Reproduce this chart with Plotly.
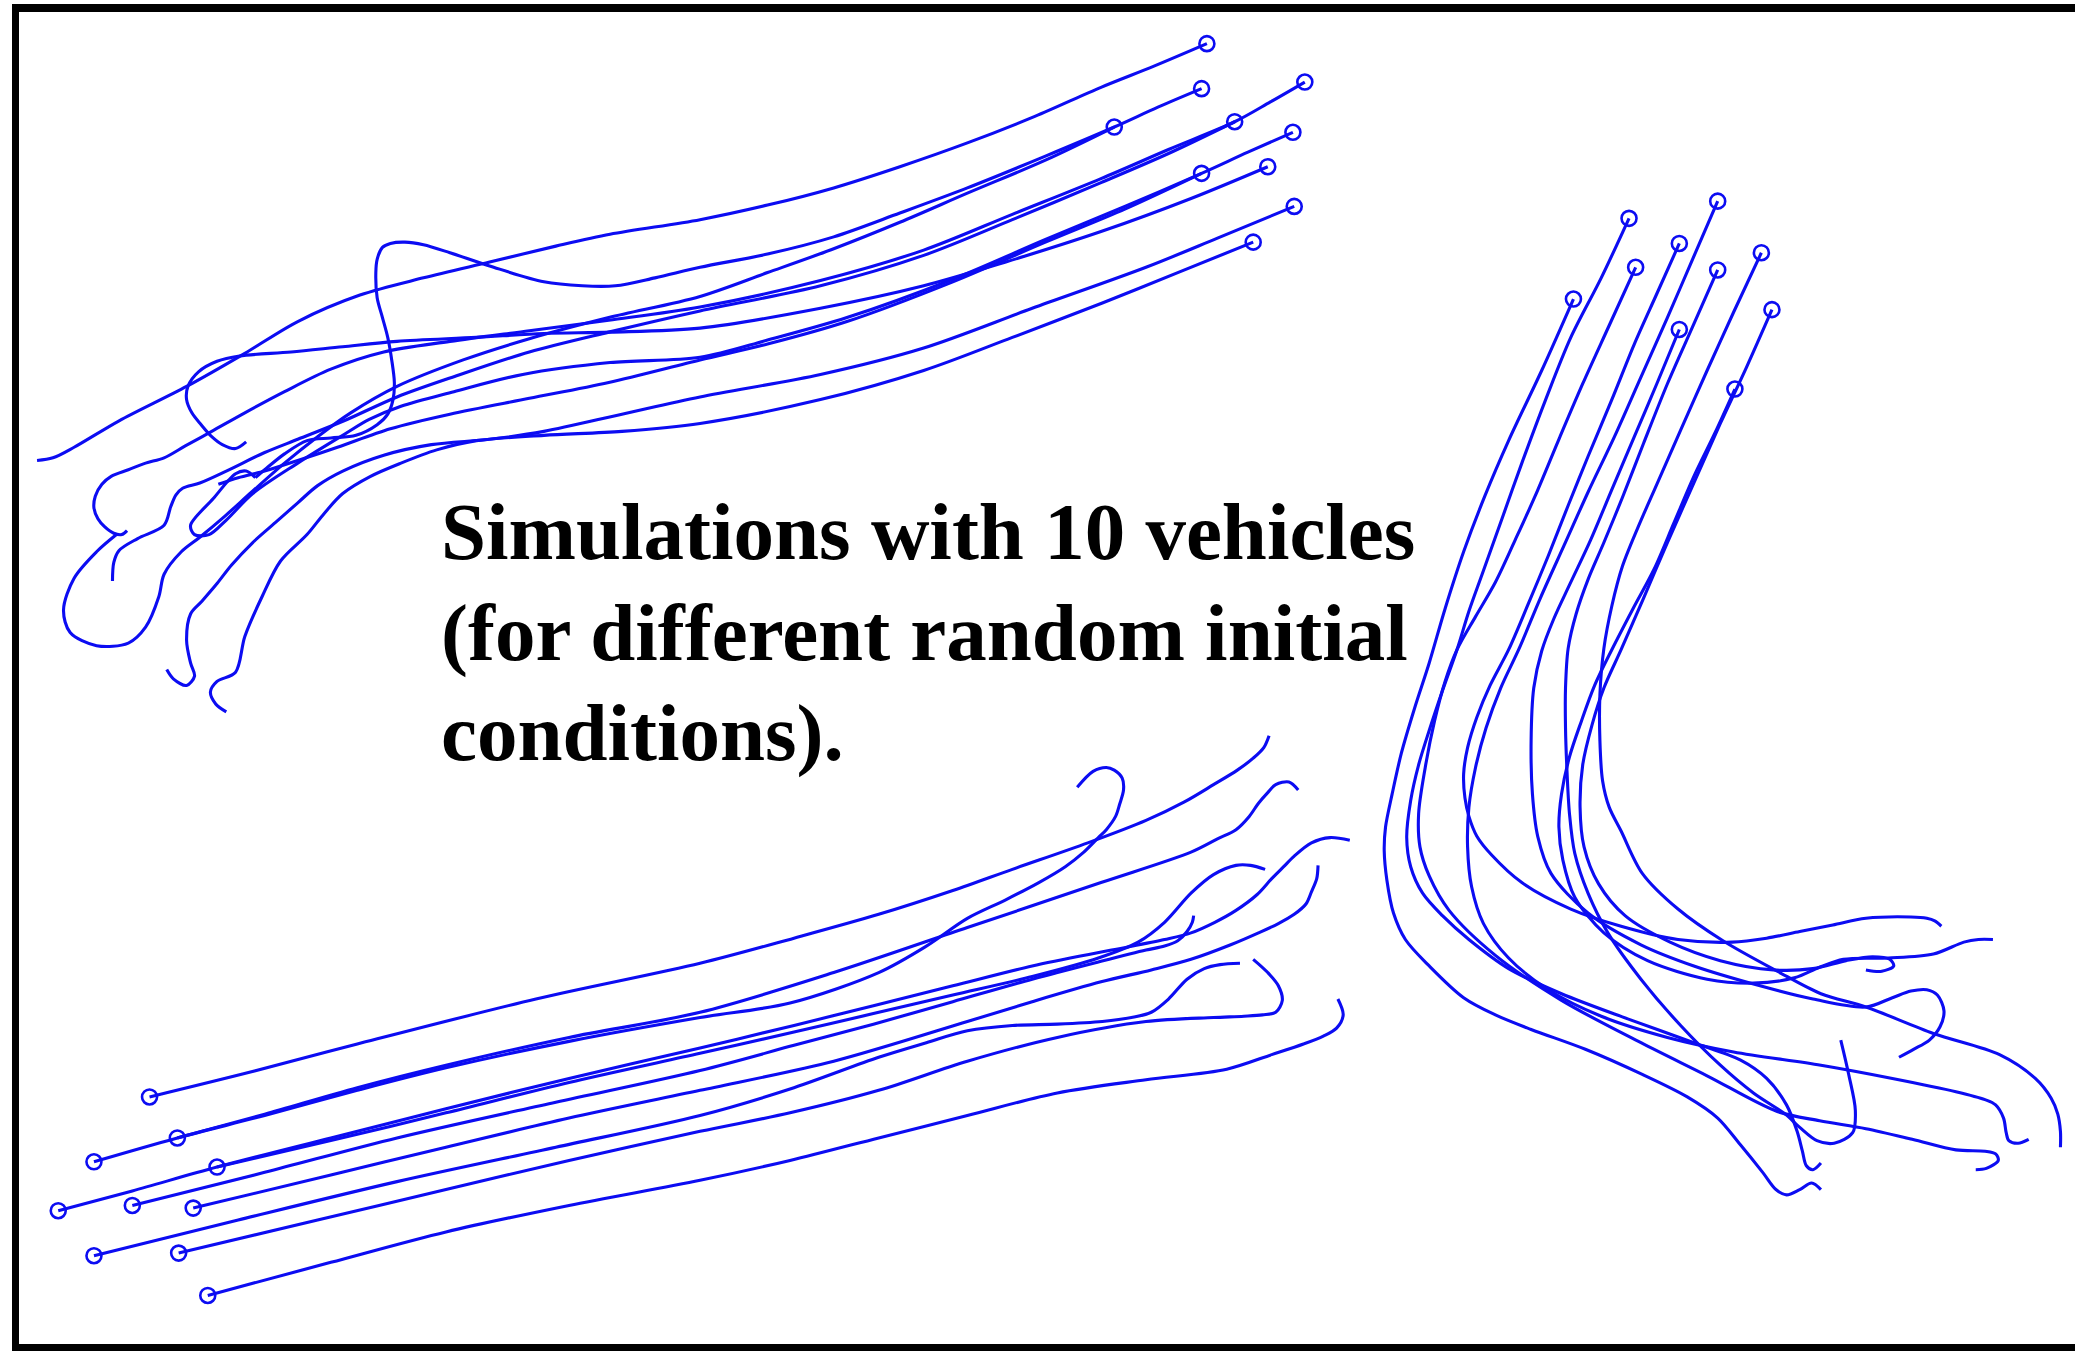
import plotly.graph_objects as go

# Vehicle trajectories (x, y) for three simulation runs, 10 vehicles each.
# The first point of every path is the vehicle's initial position (drawn as a ring).

# ---- run 1 (upper-left group) ----
top_v1 = [(912,33),(872,50),(832,66),(782,88),(731,108),(680,126),(630,142),(580,155),(529,166),(461,177),(420,186),(370,198),(320,210),(272,223),(225,243),(185,267),(141,292),(90,318),(56,338),(40,346),(28,348)]
top_v2 = [(908,67),(875,81),(842,96),(790,118),(731,142),(680,161),(630,179),(580,192),(529,202),(495,210),(465,216),(440,216),(411,213),(370,201),(340,191),(320,185),(306,183),(295,184),(289,187),(285,196),(284,206),(285,225),(289,240),(293,255),(296,272),(298,289),(297,302),(293,313),(285,321),(269,329),(250,331),(232,333),(215,343),(200,355),(193,361)]
top_v3 = [(986,62),(960,77),(933,92),(883,113),(832,135),(765,162),(698,189),(620,212),(529,232),(460,242),(400,250),(340,258),(290,266),(250,279),(215,296),(185,312),(160,326),(140,337),(124,346),(110,350),(97,355),(84,360),(77,366),(72,375),(71,384),(74,392),(79,398),(86,403),(92,404),(96,401)]
top_v4 = [(842,96),(790,121),(731,146),(680,168),(630,188),(580,206),(529,224),(460,240),(400,256),(350,272),(300,292),(265,312),(240,330),(215,350),(190,372),(170,390),(151,406),(137,417),(124,434),(120,451),(110,474),(97,486),(73,488),(53,478),(48,461),(56,437),(73,417),(88,404)]
top_v5 = [(933,92),(883,116),(832,138),(765,166),(698,193),(620,216),(529,235),(460,251),(400,266),(345,284),(300,300),(260,318),(225,332),(200,342),(171,356),(151,365),(138,369),(133,374),(129,383),(124,397),(104,407),(90,416),(86,425),(85,439)]
top_v6 = [(977,100),(943,115),(908,131),(850,156),(790,181),(720,211),(640,240),(580,257),(529,270),(461,274),(395,283),(343,296),(303,307),(279,317),(259,329),(225,350),(191,373),(171,393),(158,404),(147,404),(144,397),(161,377),(178,358),(186,356),(193,361)]
top_v7 = [(908,131),(850,158),(790,183),(720,213),(640,243),(580,260),(529,272),(460,289),(400,301),(340,313),(295,324),(255,338),(225,348),(200,356),(180,361),(165,366)]
top_v8 = [(958,126),(900,150),(832,175),(760,198),(698,216),(620,233),(529,248),(461,251),(411,252),(360,255),(300,258),(259,262),(220,266),(181,269),(164,273),(150,281),(142,292),(141,302),(145,312),(152,321),(160,330),(168,336),(178,339),(186,334)]
top_v9 = [(978,156),(920,180),(866,202),(780,233),(698,263),(620,283),(529,300),(470,313),(411,326),(370,332),(326,336),(290,344),(259,356),(240,367),(225,380),(208,395),(191,410),(175,427),(164,441),(152,455),(144,464),(141,484),(144,501),(147,511),(141,518),(131,513),(126,506)]
top_v10 = [(947,183),(890,206),(833,229),(765,255),(698,280),(620,302),(529,320),(470,326),(411,329),(360,333),(330,340),(303,350),(280,360),(259,373),(245,388),(232,404),(212,424),(198,451),(185,481),(178,508),(164,515),(159,523),(163,532),(171,538)]

# ---- run 2 (lower-left group) ----
low_v1 = [(113,829),(190,810),(270,789),(405,755),(529,728),(600,709),(664,691),(720,673),(765,657),(822,637),(866,620),(895,606),(917,593),(935,582),(947,573),(955,565),(959,556)]
low_v2 = [(71,878),(134,860),(200,843),(270,824),(337,807),(430,787),(529,769),(597,758),(664,735),(700,715),(731,694),(760,680),(785,667),(805,655),(819,644),(830,633),(836,627),(843,617),(846,608),(849,597),(848,588),(842,582),(836,580),(826,583),(814,595)]
low_v3 = [(134,860),(200,842),(270,822),(337,805),(430,784),(529,765),(630,735),(731,701),(832,667),(900,644),(920,634),(934,627),(944,617),(951,607),(958,599),(964,593),(974,591),(981,597)]
low_v4 = [(44,915),(100,900),(164,882),(250,860),(337,838),(430,815),(529,792),(600,775),(660,760),(720,745),(780,730),(840,718),(880,710),(900,705),(918,697),(934,688),(950,676),(961,664),(970,655),(978,647),(991,637),(1005,633),(1020,635)]
low_v5 = [(164,882),(250,862),(337,841),(430,818),(529,796),(600,780),(660,766),(720,752),(780,738),(830,724),(860,712),(880,697),(900,675),(917,661),(934,654),(945,654),(956,657)]
low_v6 = [(100,911),(200,886),(300,860),(420,833),(529,809),(600,790),(660,774),(720,757),(780,740),(830,727),(866,718),(880,715),(890,711),(897,704),(901,697),(902,692)]
low_v7 = [(146,913),(250,888),(337,867),(430,845),(529,824),(630,802),(731,772),(780,757),(832,742),(870,733),(900,725),(930,714),(951,705),(966,698),(978,691),(987,683),(991,674),(995,664),(996,654)]
low_v8 = [(71,949),(180,922),(300,893),(420,867),(529,843),(597,823),(664,799),(700,788),(731,779),(765,775),(799,774),(833,772),(855,769),(870,765),(883,755),(897,740),(910,732),(922,729),(937,728)]
low_v9 = [(135,947),(240,922),(337,899),(430,877),(529,855),(597,841),(664,824),(731,802),(799,784),(866,772),(917,769),(940,768),(954,767),(964,765),(969,756),(966,745),(958,735),(947,725)]
low_v10 = [(157,979),(250,954),(337,931),(430,911),(529,892),(597,877),(664,860),(731,843),(799,826),(866,816),(927,808),(961,797),(985,789),(1000,783),(1010,777),(1015,767),(1011,755)]

# ---- run 3 (right group) ----
right_v1 = [(1189,226),(1165,280),(1140,333),(1122,375),(1106,417),(1092,460),(1080,501),(1069,535),(1059,569),(1052,600),(1047,625),(1046,643),(1048,665),(1053,690),(1062,710),(1080,730),(1106,754),(1130,767),(1157,778),(1198,793),(1241,812),(1275,829),(1298,845),(1315,865),(1332,886),(1342,899),(1350,903),(1360,899),(1369,894),(1376,899)]
right_v2 = [(1231,165),(1210,210),(1187,255),(1168,302),(1150,350),(1135,392),(1120,434),(1110,462),(1101,491),(1090,522),(1080,552),(1072,578),(1066,605),(1063,633),(1066,655),(1075,675),(1090,692),(1110,710),(1140,732),(1180,751),(1230,770),(1280,788),(1315,801),(1335,815),(1350,835),(1358,855),(1362,870),(1365,881),(1370,884),(1376,879)]
right_v3 = [(1236,202),(1216,246),(1196,290),(1178,332),(1160,375),(1145,408),(1130,440),(1115,466),(1101,491),(1092,515),(1084,545),(1077,580),(1072,615),(1073,640),(1080,662),(1095,688),(1130,722),(1180,756),(1240,788),(1290,813),(1343,840),(1375,847),(1410,853),(1445,861),(1478,869),(1500,870),(1508,872),(1510,877),(1501,883),(1493,884)]
right_v4 = [(1269,184),(1252,222),(1235,260),(1218,302),(1200,345),(1185,382),(1170,420),(1155,456),(1140,491),(1126,518),(1116,542),(1109,565),(1106,585),(1107,603),(1110,617),(1116,632),(1127,646),(1150,667),(1187,687),(1225,700),(1268,710),(1309,712),(1335,709),(1360,704),(1385,699),(1410,694),(1444,693),(1456,694),(1462,696),(1467,700)]
right_v5 = [(1298,152),(1279,196),(1260,240),(1240,285),(1220,330),(1200,372),(1182,412),(1164,452),(1148,490),(1134,520),(1123,550),(1115,580),(1110,610),(1109,640),(1112,670),(1121,698),(1140,724),(1170,748),(1210,768),(1260,784),(1310,795),(1376,805),(1430,815),(1478,825),(1500,831),(1508,835),(1514,845),(1516,856),(1518,862),(1525,864),(1533,861)]
right_v6 = [(1269,249),(1252,290),(1235,330),(1218,370),(1202,408),(1187,440),(1174,468),(1165,492),(1159,520),(1157,560),(1158,600),(1162,632),(1172,660),(1200,690),(1240,714),(1280,730),(1330,745),(1370,755),(1410,761),(1430,754),(1444,749),(1456,748),(1464,752),(1469,764),(1466,776),(1458,786),(1446,793),(1435,799)]
right_v7 = [(1298,204),(1279,247),(1260,290),(1242,335),(1226,376),(1212,410),(1200,438),(1191,464),(1185,490),(1183,520),(1183,550),(1184,580),(1186,615),(1190,645),(1200,675),(1215,705),(1240,740),(1270,775),(1300,805),(1325,826),(1349,842),(1360,852),(1373,862),(1386,864),(1400,856),(1402,839),(1397,812),(1391,786)]
right_v8 = [(1331,191),(1310,236),(1290,280),(1270,325),(1252,366),(1238,398),(1226,428),(1218,458),(1212,490),(1209,525),(1209,560),(1211,590),(1216,610),(1225,628),(1241,660),(1268,687),(1302,711),(1343,734),(1376,751),(1410,761),(1461,781),(1511,797),(1538,815),(1550,830),(1555,842),(1557,855),(1557,867)]
right_v9 = [(1311,294),(1296,327),(1280,360),(1265,395),(1250,430),(1234,460),(1218,491),(1205,518),(1195,545),(1186,572),(1180,600),(1178,625),(1181,650),(1190,678),(1212,705),(1245,726),(1290,740),(1325,743),(1356,739),(1375,731),(1393,725),(1427,724),(1461,721),(1484,712),(1495,710),(1506,710)]
right_v10 = [(1339,234),(1320,277),(1300,320),(1280,365),(1260,410),(1242,452),(1225,491),(1212,520),(1203,548),(1196,578),(1194,610),(1197,640),(1208,668),(1228,692),(1262,712),(1300,726),(1340,733),(1370,732),(1395,726),(1415,723),(1428,725),(1431,730),(1422,734),(1410,733)]

top_run = [top_v1, top_v2, top_v3, top_v4, top_v5, top_v6, top_v7, top_v8, top_v9, top_v10]
low_run = [low_v1, low_v2, low_v3, low_v4, low_v5, low_v6, low_v7, low_v8, low_v9, low_v10]
right_run = [right_v1, right_v2, right_v3, right_v4, right_v5, right_v6, right_v7, right_v8, right_v9, right_v10]

caption_lines = ["Simulations with 10 vehicles", "(for different random initial", "conditions)."]

W, H = 2075, 1351
X_RANGE = [0, 1568]
Y_RANGE = [1021, 0]
BLUE = "rgb(12,12,242)"

fig = go.Figure()

for run in (top_run, low_run, right_run):
    for path in run:
        fig.add_trace(go.Scatter(
            x=[p[0] for p in path], y=[p[1] for p in path],
            mode="lines",
            line=dict(color=BLUE, width=3.1, shape="spline", smoothing=0.9),
            hoverinfo="skip", showlegend=False))

# initial positions
starts = [path[0] for run in (top_run, low_run, right_run) for path in run]
fig.add_trace(go.Scatter(
    x=[p[0] for p in starts], y=[p[1] for p in starts],
    mode="markers",
    marker=dict(symbol="circle-open", size=15, color=BLUE, line=dict(width=2.6, color=BLUE)),
    hoverinfo="skip", showlegend=False))

# caption, one annotation per line
caption_y = [402, 478, 553.7]
for text, yc in zip(caption_lines, caption_y):
    fig.add_annotation(
        x=332, y=yc, xref="x", yref="y", text="<b>" + text + "</b>", showarrow=False,
        xanchor="left", yanchor="middle",
        font=dict(family="Liberation Serif, Times New Roman, serif", size=81, color="black"))

# frame (left, top and bottom edges)
def px_rect(x0, y0, x1, y1):
    return dict(type="rect", xref="paper", yref="paper",
                x0=x0 / W, x1=x1 / W, y0=1 - y1 / H, y1=1 - y0 / H,
                fillcolor="black", line=dict(width=0), layer="above")

fig.update_layout(shapes=[
    px_rect(12, 4, 19, H),
    px_rect(12, 4, W, 12),
    px_rect(12, 1344, W, H),
])

fig.update_layout(
    width=W, height=H, autosize=False,
    margin=dict(l=0, r=0, t=0, b=0, pad=0),
    paper_bgcolor="white", plot_bgcolor="white",
    xaxis=dict(range=X_RANGE, visible=False, fixedrange=True),
    yaxis=dict(range=Y_RANGE, visible=False, fixedrange=True),
)

fig.write_html("out.html")
